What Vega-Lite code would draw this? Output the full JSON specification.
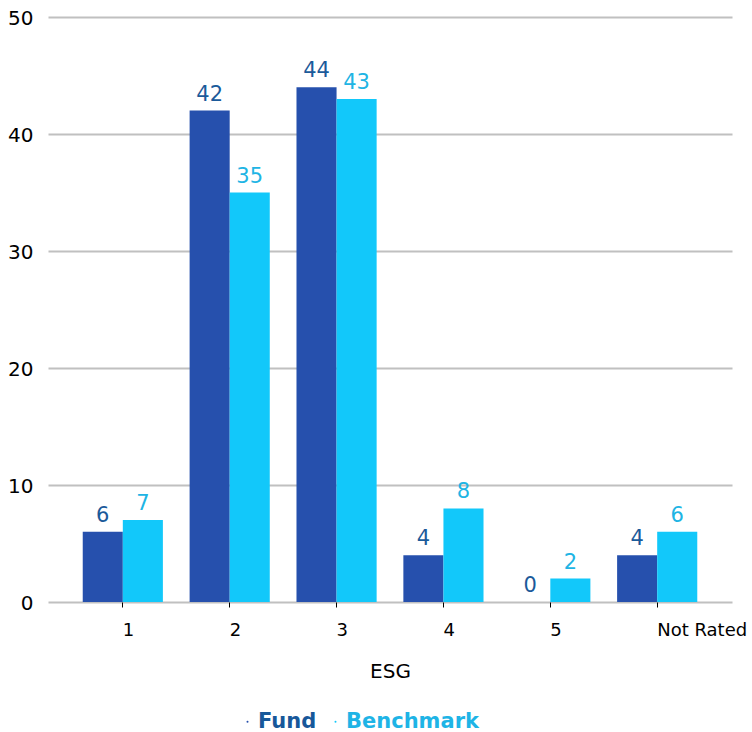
{
  "$schema": "https://vega.github.io/schema/vega-lite/v6.json",
  "width": 684,
  "height": 585,
  "autosize": {"type": "none"},
  "padding": {"left": 48, "top": 17, "right": 20, "bottom": 130},
  "background": "white",
  "config": {
    "font": "DejaVu Sans",
    "view": {"stroke": null}
  },
  "data": {
    "values": [
      {"rating": "1", "series": "Fund", "value": 6},
      {"rating": "1", "series": "Benchmark", "value": 7},
      {"rating": "2", "series": "Fund", "value": 42},
      {"rating": "2", "series": "Benchmark", "value": 35},
      {"rating": "3", "series": "Fund", "value": 44},
      {"rating": "3", "series": "Benchmark", "value": 43},
      {"rating": "4", "series": "Fund", "value": 4},
      {"rating": "4", "series": "Benchmark", "value": 8},
      {"rating": "5", "series": "Fund", "value": 0},
      {"rating": "5", "series": "Benchmark", "value": 2},
      {"rating": "Not Rated", "series": "Fund", "value": 4},
      {"rating": "Not Rated", "series": "Benchmark", "value": 6}
    ]
  },
  "encoding": {
    "x": {
      "field": "rating",
      "type": "nominal",
      "sort": ["1", "2", "3", "4", "5", "Not Rated"],
      "scale": {"paddingInner": 0.25, "paddingOuter": 0.325},
      "axis": {
        "title": "ESG",
        "titleFontSize": 20,
        "titleFontWeight": "normal",
        "titleColor": "#000000",
        "titlePadding": 22,
        "labelFontSize": 18,
        "labelColor": "#000000",
        "labelAlign": "left",
        "labelAngle": 0,
        "labelPadding": 14,
        "labelBound": false,
        "labelOverlap": false,
        "tickSize": 5,
        "tickColor": "#000000",
        "tickWidth": 1,
        "domain": false,
        "grid": false
      }
    },
    "xOffset": {
      "field": "series",
      "sort": ["Fund", "Benchmark"],
      "scale": {"paddingInner": 0, "paddingOuter": 0}
    },
    "y": {
      "field": "value",
      "type": "quantitative",
      "scale": {"domain": [0, 50], "nice": false},
      "axis": {
        "title": null,
        "values": [0, 10, 20, 30, 40, 50],
        "grid": true,
        "gridColor": "#c0c0c0",
        "gridWidth": 2,
        "domain": false,
        "ticks": false,
        "labelFontSize": 20,
        "labelColor": "#000000",
        "labelPadding": 15,
        "labelOffset": 1.5,
        "labelFlush": false
      }
    }
  },
  "layer": [
    {
      "mark": {"type": "bar", "stroke": null},
      "encoding": {
        "color": {
          "field": "series",
          "type": "nominal",
          "scale": {"domain": ["Fund", "Benchmark"], "range": ["#2650ad", "#12c8fa"]},
          "legend": {
            "title": null,
            "orient": "none",
            "direction": "horizontal",
            "legendX": 189,
            "legendY": 694,
            "padding": 0,
            "symbolType": "circle",
            "symbolSize": 4,
            "symbolStrokeWidth": 0,
            "labelFontSize": 21,
            "labelFontWeight": "bold",
            "labelOffset": 0,
            "columnPadding": 8,
            "labelColor": {"expr": "datum.label === 'Fund' ? '#17589a' : '#1eb4e6'"}
          }
        }
      }
    },
    {
      "mark": {"type": "text", "dy": -10, "baseline": "alphabetic", "fontSize": 21},
      "encoding": {
        "text": {"field": "value", "type": "quantitative"},
        "color": {
          "condition": {"test": "datum.series === 'Fund'", "value": "#1b5a9a"},
          "value": "#20b4e4"
        }
      }
    }
  ]
}
